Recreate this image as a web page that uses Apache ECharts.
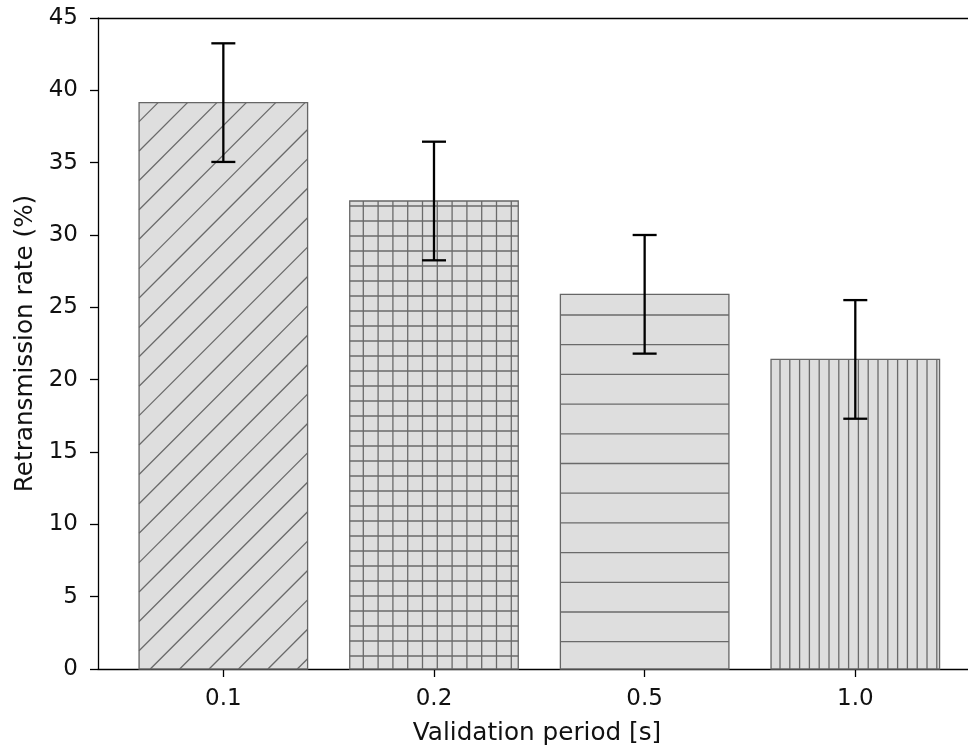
<!DOCTYPE html>
<html>
<head>
<meta charset="utf-8">
<script src="https://cdn.jsdelivr.net/npm/echarts@6/dist/echarts.min.js"></script>
<style>html,body{margin:0;padding:0;background:#fff}#c{width:968px;height:751px}</style>
</head>
<body>
<div id="c"></div>
<script>
// ---- data ----
var categories = ['0.1', '0.2', '0.5', '1.0'];
var means = [39.15, 32.35, 25.9, 21.4];
var errors = [4.1, 4.1, 4.1, 4.1];
var yTicks = [0, 5, 10, 15, 20, 25, 30, 35, 40, 45];
var hatches = ['/', '+', '-', '|'];

// ---- style ----
var FONT = 'DejaVu Sans';
var FILL = '#dedede';
var EDGE = '#666666';
var HATCH = '#6a6a6a';
var BAR_W = 0.8;
var X_MIN = -0.595, X_MAX = 3.535;

function hatchLines(kind, x0, x1, y0, y1) {
  var lines = [];
  function vlines(sp, ph) {
    var s = Math.ceil((x0 - ph) / sp);
    for (var x = ph + s * sp; x <= x1; x += sp) if (x > x0 + 0.5 && x < x1 - 0.5) lines.push([x, y0, x, y1]);
  }
  function hlines(sp, ph) {
    var s = Math.ceil((y0 - ph) / sp);
    for (var y = ph + s * sp; y <= y1; y += sp) if (y > y0 + 0.5 && y < y1 - 0.5) lines.push([x0, y, x1, y]);
  }
  if (kind === '/') {
    var sp = 29.4, ph = 819.3;
    var cmin = x0 + y0, cmax = x1 + y1;
    var s = Math.ceil((cmin - ph) / sp);
    for (var c = ph + s * sp; c <= cmax; c += sp) {
      var xa = Math.max(x0, c - y1), xb = Math.min(x1, c - y0);
      if (xb > xa) lines.push([xa, c - xa, xb, c - xb]);
    }
  } else if (kind === '+') {
    vlines(14.8, 363.3);
    hlines(15, 221);
  } else if (kind === '-') {
    hlines(29.7, 315);
  } else if (kind === '|') {
    vlines(9.8, 780);
  }
  return lines;
}

var barData = means.map(function (v, i) { return [i, v]; });
var errData = means.map(function (v, i) { return [i, v - errors[i], v + errors[i]]; });

var chart = echarts.init(document.getElementById('c'), null, { renderer: 'canvas' });
chart.setOption({
  animation: false,
  backgroundColor: '#fff',
  grid: { left: 98, top: 18, right: 0, height: 653, show: false },
  xAxis: [{
    type: 'value', min: X_MIN, max: X_MAX,
    name: 'Validation period [s]', nameLocation: 'middle', nameGap: 52,
    nameTextStyle: { fontFamily: FONT, fontSize: 24.7, color: '#111', padding: [0, 0, 0, 8] },
    splitLine: { show: false },
    axisLine: { onZero: false, lineStyle: { color: '#000', width: 1.3 } },
    axisTick: { show: true, length: 8, lineStyle: { color: '#000', width: 1.3 }, customValues: [0, 1, 2, 3] },
    axisLabel: { customValues: [0, 1, 2, 3], margin: 19, fontFamily: FONT, fontSize: 23, color: '#111',
      formatter: function (v) { return categories[Math.round(v)]; } }
  }, {
    type: 'value', min: X_MIN, max: X_MAX, position: 'top',
    splitLine: { show: false },
    axisLine: { show: true, onZero: false, lineStyle: { color: '#000', width: 1.3 } },
    axisTick: { show: false }, axisLabel: { show: false }
  }],
  yAxis: {
    type: 'value', min: 0, max: 45, interval: 5,
    name: 'Retransmission rate (%)', nameLocation: 'middle', nameGap: 60,
    nameTextStyle: { fontFamily: FONT, fontSize: 24.7, color: '#111' },
    splitLine: { show: false },
    axisLine: { show: true, onZero: false, lineStyle: { color: '#000', width: 1.3 } },
    axisTick: { show: true, length: 8, lineStyle: { color: '#000', width: 1.3 } },
    axisLabel: { margin: 20, fontFamily: FONT, fontSize: 23, color: '#111',
      formatter: function (v) { return yTicks.indexOf(v) >= 0 ? String(v) : ''; } }
  },
  series: [
    {
      type: 'custom',
      data: barData,
      renderItem: function (params, api) {
        var i = api.value(0), v = api.value(1);
        var p0 = api.coord([i - BAR_W / 2, v]);
        var p1 = api.coord([i + BAR_W / 2, 0]);
        var x0 = p0[0], y0 = p0[1], x1 = p1[0], y1 = p1[1];
        var children = [{
          type: 'rect', shape: { x: x0, y: y0, width: x1 - x0, height: y1 - y0 },
          style: { fill: FILL, stroke: null }
        }];
        hatchLines(hatches[params.dataIndex], x0, x1, y0, y1).forEach(function (l) {
          children.push({ type: 'line', shape: { x1: l[0], y1: l[1], x2: l[2], y2: l[3] },
            style: { stroke: HATCH, lineWidth: 1.3 } });
        });
        children.push({
          type: 'rect', shape: { x: x0, y: y0, width: x1 - x0, height: y1 - y0 },
          style: { fill: null, stroke: EDGE, lineWidth: 1.3 }
        });
        return { type: 'group', children: children };
      }
    },
    {
      type: 'custom',
      data: errData,
      z: 5,
      renderItem: function (params, api) {
        var i = api.value(0);
        var lo = api.coord([i, api.value(1)]);
        var hi = api.coord([i, api.value(2)]);
        var cw = 12;
        var st = { stroke: '#000', lineWidth: 2.3 };
        return { type: 'group', children: [
          { type: 'line', shape: { x1: lo[0], y1: lo[1], x2: hi[0], y2: hi[1] }, style: st },
          { type: 'line', shape: { x1: lo[0] - cw, y1: lo[1], x2: lo[0] + cw, y2: lo[1] }, style: st },
          { type: 'line', shape: { x1: hi[0] - cw, y1: hi[1], x2: hi[0] + cw, y2: hi[1] }, style: st }
        ] };
      }
    }
  ]
});
</script>
</body>
</html>
